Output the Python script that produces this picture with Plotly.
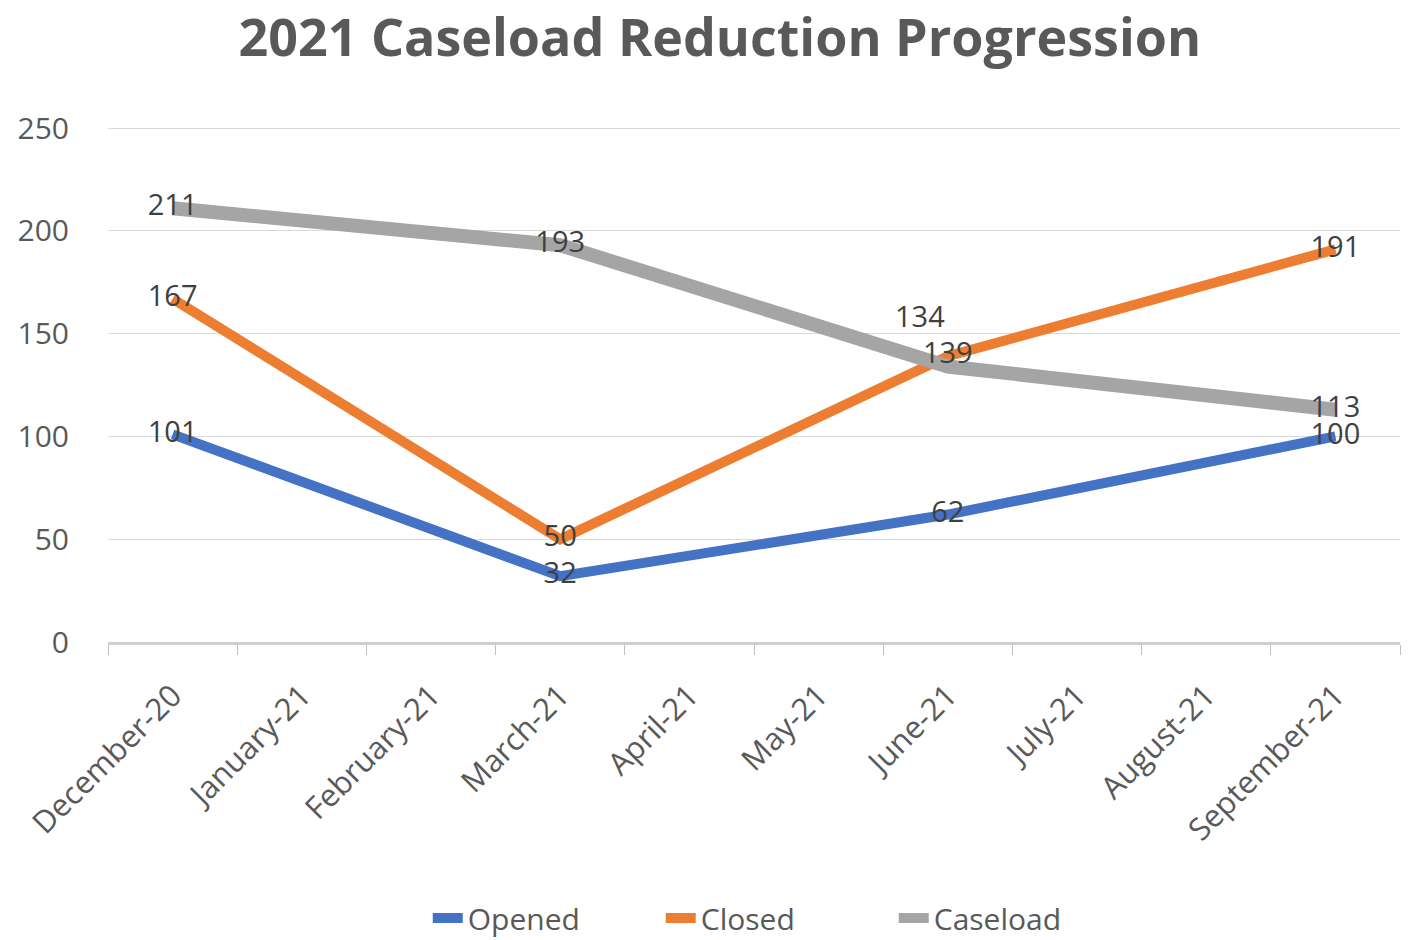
import plotly.graph_objects as go

months = ["December-20", "January-21", "February-21", "March-21", "April-21",
          "May-21", "June-21", "July-21", "August-21", "September-21"]
opened = [101, None, None, 32, None, None, 62, None, None, 100]
closed = [167, None, None, 50, None, None, 139, None, None, 191]
caseload = [211, None, None, 193, None, None, 134, None, None, 113]
y_ticks = [0, 50, 100, 150, 200, 250]

series = [
    ("Opened", opened, "#4472C4", 10),
    ("Closed", closed, "#ED7D31", 10),
    ("Caseload", caseload, "#A5A5A5", 14),
]

fig = go.Figure()
for name, vals, color, w in series:
    fig.add_trace(go.Scatter(
        x=months, y=vals, name=name, mode="lines", connectgaps=True,
        line=dict(color=color, width=w), hoverinfo="skip"))

label_font = dict(family="Open Sans", size=29, color="#404040")
for name, vals, color, w in series:
    texts = []
    for i, v in enumerate(vals):
        if v is None:
            texts.append("")
        elif name == "Caseload" and months[i] == "June-21":
            texts.append("")
        else:
            texts.append(str(v))
    fig.add_trace(go.Scatter(
        x=months, y=vals, mode="text", text=texts, textposition="middle center",
        textfont=label_font, showlegend=False, hoverinfo="skip"))

# offset label for the Caseload June point (drawn above-left in the original)
fig.add_annotation(x="June-21", y=caseload[6], text=str(caseload[6]),
                   showarrow=False, xshift=-28, yshift=51, font=label_font)

fig.update_layout(
    width=1417, height=940,
    paper_bgcolor="white", plot_bgcolor="white",
    margin=dict(l=108, r=17, t=127, b=298, autoexpand=False),
    title=dict(text="<b>2021 Caseload Reduction Progression</b>",
               x=0.508, xanchor="center", y=1 - 38 / 940, yanchor="middle",
               xref="container", yref="container",
               font=dict(family="Open Sans", size=52, color="#595959")),
    legend=dict(orientation="h", x=0.518, xanchor="center",
                y=1 - 918 / 940, yanchor="middle", yref="container",
                font=dict(family="Open Sans", size=30, color="#595959"),
                entrywidth=188, entrywidthmode="pixels", tracegroupgap=0),
    showlegend=True,
)
fig.update_xaxes(
    type="category", categoryorder="array", categoryarray=months,
    tickangle=-45, tickson="boundaries", ticks="outside", ticklen=10,
    tickcolor="#bfbfbf", showgrid=False, showline=True, linecolor="#d0d0d0",
    linewidth=3, tickfont=dict(family="Open Sans", size=31, color="#595959"),
    range=[-0.5, 9.5], ticklabelstandoff=20, automargin=False)
fig.update_yaxes(
    range=[0, 250.5], tickvals=y_ticks, showgrid=True, gridcolor="#d9d9d9",
    gridwidth=1, zeroline=False, showline=False,
    tickfont=dict(family="Open Sans", size=30, color="#595959"),
    ticklabelstandoff=38, automargin=False)

fig.write_html("out.html", config={"displayModeBar": False},
               post_script="document.body.style.margin='0';document.body.style.overflow='hidden';")
